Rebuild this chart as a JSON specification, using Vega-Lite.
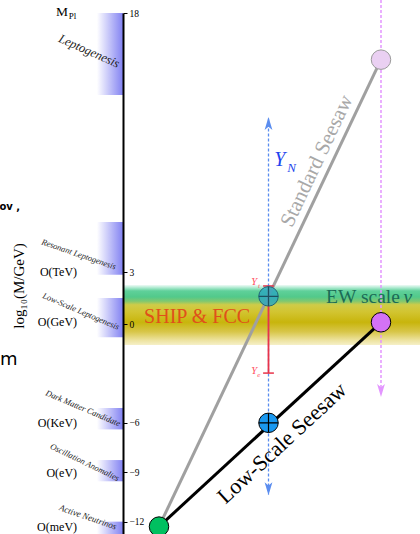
{
  "$schema": "https://vega.github.io/schema/vega-lite/v6.json",
  "width": 420,
  "height": 521,
  "padding": {"left": 0, "top": 13, "right": 0, "bottom": 0},
  "autosize": {"type": "none"},
  "background": "white",
  "config": {"view": {"stroke": null}},
  "encoding": {
    "x": {"field": "x", "type": "quantitative", "scale": {"domain": [-4.1, 9.9], "nice": false, "zero": false}, "axis": null},
    "y": {"field": "y", "type": "quantitative", "scale": {"domain": [-12.75, 0, 18], "range": [521, 311, 0], "nice": false, "zero": false},
      "axis": {"orient": "right", "offset": -297, "values": [18, 3, 0, -6, -9, -12], "title": null, "grid": false, "zindex": 1,
        "domainColor": "black", "domainWidth": 2, "tickColor": "black", "tickSize": 4, "tickWidth": 1,
        "labelFont": "Liberation Serif", "labelFontSize": 9.5, "labelColor": "black", "labelPadding": 2, "labelOverlap": false, "labelBound": false}}
  },
  "layer": [
    {
      "data": {"values": [{"x": 0, "x2": 9.9, "y": 2.26, "y2": -1.28}]},
      "mark": {"type": "rect", "fill": {"gradient": "linear", "x1": 0, "y1": 0, "x2": 0, "y2": 1, "stops": [
        {"offset": 0, "color": "#f0fbf7"}, {"offset": 0.05, "color": "#a8e8cc"}, {"offset": 0.1, "color": "#5fd09a"},
        {"offset": 0.2, "color": "#52c98a"}, {"offset": 0.27, "color": "#80c870"}, {"offset": 0.33, "color": "#cfcc48"},
        {"offset": 0.45, "color": "#d2c430"}, {"offset": 0.62, "color": "#c8b50c"}, {"offset": 0.78, "color": "#d8c64a"},
        {"offset": 0.92, "color": "#ede3a0"}, {"offset": 1, "color": "#f6f0c8"}]}},
      "encoding": {"x2": {"field": "x2"}, "y2": {"field": "y2"}}
    },
    {
      "data": {"values": [
        {"x": -0.87, "x2": 0, "y": 18, "y2": 13.25},
        {"x": -0.87, "x2": 0, "y": 5.9, "y2": 2.85},
        {"x": -0.87, "x2": 0, "y": 1.5, "y2": -0.8},
        {"x": -0.87, "x2": 0, "y": -5.1, "y2": -6.4},
        {"x": -0.87, "x2": 0, "y": -8.26, "y2": -9.55},
        {"x": -0.87, "x2": 0, "y": -12.0, "y2": -12.75}]},
      "mark": {"type": "rect", "fill": {"gradient": "linear", "x1": 0, "y1": 0, "x2": 1, "y2": 0, "stops": [
        {"offset": 0, "color": "#ffffff"}, {"offset": 1, "color": "#8282f2"}]}},
      "encoding": {"x2": {"field": "x2"}, "y2": {"field": "y2"}}
    },
    {
      "data": {"values": [{"x": 1.2, "y": -12.3}, {"x": 8.6, "y": 15.3}]},
      "mark": {"type": "line", "color": "#a0a0a0", "strokeWidth": 3}
    },
    {
      "data": {"values": [{"x": 1.2, "y": -12.3}, {"x": 8.6, "y": 0.1}]},
      "mark": {"type": "line", "color": "black", "strokeWidth": 3}
    },
    {
      "data": {"values": [{"x": 4.85, "y": 11.9, "y2": -10.35}]},
      "mark": {"type": "rule", "color": "#5b8def", "strokeWidth": 1.3, "strokeDash": [3, 2]},
      "encoding": {"y2": {"field": "y2"}}
    },
    {
      "data": {"values": [{"x": 8.6, "y": 18.75, "y2": -4.3}]},
      "mark": {"type": "rule", "color": "#e395ff", "strokeWidth": 1.5, "strokeDash": [3, 2]},
      "encoding": {"y2": {"field": "y2"}}
    },
    {
      "data": {"values": [{"x": 4.85, "y": 2.2, "y2": -2.98}]},
      "mark": {"type": "rule", "color": "#e8334a", "strokeWidth": 1.8},
      "encoding": {"y2": {"field": "y2"}}
    },
    {
      "data": {"values": [{"x": 4.67, "x2": 5.03, "y": 2.2}, {"x": 4.67, "x2": 5.03, "y": -2.98}]},
      "mark": {"type": "rule", "color": "#e8334a", "strokeWidth": 1.5},
      "encoding": {"x2": {"field": "x2"}}
    },
    {
      "data": {"values": [{"x": 4.85, "y": 11.6}]},
      "mark": {"type": "point", "shape": "M0,-1L0.6,1L0,0.5L-0.6,1Z", "size": 169, "filled": true, "color": "#5b8def", "opacity": 1}
    },
    {
      "data": {"values": [{"x": 4.85, "y": -10.0}]},
      "mark": {"type": "point", "shape": "M0,1L0.6,-1L0,-0.5L-0.6,-1Z", "size": 169, "filled": true, "color": "#5b8def", "opacity": 1}
    },
    {
      "data": {"values": [{"x": 8.6, "y": -4.04}]},
      "mark": {"type": "point", "shape": "M0,1L0.6,-1L0,-0.5L-0.6,-1Z", "size": 169, "filled": true, "color": "#e395ff", "opacity": 1}
    },
    {
      "data": {"values": [{"x": 1.2, "y": -12.3}]},
      "mark": {"type": "point", "shape": "circle", "size": 380, "filled": true, "fill": "#00c060", "stroke": "black", "strokeWidth": 1, "opacity": 1}
    },
    {
      "data": {"values": [{"x": 4.85, "y": -6.0}]},
      "mark": {"type": "point", "shape": "circle", "size": 380, "filled": true, "fill": "#1a98f0", "stroke": "black", "strokeWidth": 1, "opacity": 1}
    },
    {
      "data": {"values": [{"x": 8.6, "y": 0.1}]},
      "mark": {"type": "point", "shape": "circle", "size": 380, "filled": true, "fill": "#d472f5", "stroke": "black", "strokeWidth": 1, "opacity": 1}
    },
    {
      "data": {"values": [{"x": 8.6, "y": 15.3}]},
      "mark": {"type": "point", "shape": "circle", "size": 380, "filled": true, "fill": "#ead0f2", "stroke": "#9a9a9a", "strokeWidth": 1, "opacity": 1}
    },
    {
      "data": {"values": [{"x": 4.85, "y": 1.6}]},
      "mark": {"type": "point", "shape": "circle", "size": 380, "filled": true, "fill": "#2aa6bf", "fillOpacity": 0.8, "stroke": "#226677", "strokeWidth": 1}
    },
    {
      "data": {"values": [{"x": 4.85, "y": -6.0}]},
      "mark": {"type": "point", "shape": "M-1,0L1,0M0,-1L0,1", "size": 380, "filled": false, "stroke": "black", "strokeWidth": 1.2, "opacity": 1}
    },
    {
      "data": {"values": [{"x": 4.85, "y": 1.6}]},
      "mark": {"type": "point", "shape": "M-1,0L1,0M0,-1L0,1", "size": 380, "filled": false, "stroke": "#1d5060", "strokeWidth": 1.2, "opacity": 1}
    },
    {
      "data": {"values": [{"x": -2.03, "y": 18.05, "t": "M"}]},
      "mark": {"type": "text", "font": "Liberation Serif", "fontSize": 13.5, "color": "black", "align": "center", "baseline": "middle"},
      "encoding": {"text": {"field": "t"}}
    },
    {
      "data": {"values": [{"x": -1.68, "y": 17.85, "t": "Pl"}]},
      "mark": {"type": "text", "font": "Liberation Serif", "fontSize": 9, "color": "black", "align": "center", "baseline": "middle"},
      "encoding": {"text": {"field": "t"}}
    },
    {
      "data": {"values": [
        {"x": -1.53, "y": 3.0, "t": "O(TeV)"},
        {"x": -1.53, "y": 0.1, "t": "O(GeV)"},
        {"x": -1.53, "y": -6.0, "t": "O(KeV)"},
        {"x": -1.53, "y": -9.05, "t": "O(eV)"},
        {"x": -1.53, "y": -12.3, "t": "O(meV)"}]},
      "mark": {"type": "text", "font": "Liberation Serif", "fontSize": 12, "color": "black", "align": "right", "baseline": "middle"},
      "encoding": {"text": {"field": "t"}}
    },
    {
      "data": {"values": [{"x": -3.47, "y": 2.2, "t": "log₁₀(M/GeV)"}]},
      "mark": {"type": "text", "font": "Liberation Serif", "fontSize": 15, "color": "black", "align": "center", "baseline": "middle", "angle": 270},
      "encoding": {"text": {"field": "t"}}
    },
    {
      "data": {"values": [{"x": -1.13, "y": 15.8, "t": "Leptogenesis"}]},
      "mark": {"type": "text", "font": "Liberation Serif", "fontStyle": "italic", "fontSize": 12.5, "color": "#222", "align": "center", "baseline": "middle", "angle": 24},
      "encoding": {"text": {"field": "t"}}
    },
    {
      "data": {"values": [{"x": -1.47, "y": 4.05, "t": "Resonant Leptogenesis"}]},
      "mark": {"type": "text", "font": "Liberation Serif", "fontStyle": "italic", "fontSize": 8.5, "color": "#222", "align": "center", "baseline": "middle", "angle": 19},
      "encoding": {"text": {"field": "t"}}
    },
    {
      "data": {"values": [{"x": -1.4, "y": 0.75, "t": "Low-Scale Leptogenesis"}, {"x": -1.33, "y": -5.1, "t": "Dark Matter Candidate"}]},
      "mark": {"type": "text", "font": "Liberation Serif", "fontStyle": "italic", "fontSize": 8.5, "color": "#222", "align": "center", "baseline": "middle", "angle": 23},
      "encoding": {"text": {"field": "t"}}
    },
    {
      "data": {"values": [{"x": -1.27, "y": -8.38, "t": "Oscillation Anomalies"}]},
      "mark": {"type": "text", "font": "Liberation Serif", "fontStyle": "italic", "fontSize": 8.5, "color": "#222", "align": "center", "baseline": "middle", "angle": 26},
      "encoding": {"text": {"field": "t"}}
    },
    {
      "data": {"values": [{"x": -1.17, "y": -11.72, "t": "Active Neutrinos"}]},
      "mark": {"type": "text", "font": "Liberation Serif", "fontStyle": "italic", "fontSize": 9, "color": "#222", "align": "center", "baseline": "middle", "angle": 19},
      "encoding": {"text": {"field": "t"}}
    },
    {
      "data": {"values": [{"x": 2.47, "y": 0.4, "t": "SHIP & FCC"}]},
      "mark": {"type": "text", "font": "Liberation Serif", "fontSize": 20, "color": "#e0501a", "align": "center", "baseline": "middle"},
      "encoding": {"text": {"field": "t"}}
    },
    {
      "data": {"values": [{"x": 9.23, "y": 1.56, "t": "EW scale"}]},
      "mark": {"type": "text", "font": "Liberation Serif", "fontSize": 19.5, "color": "#1b6b56", "align": "right", "baseline": "middle"},
      "encoding": {"text": {"field": "t"}}
    },
    {
      "data": {"values": [{"x": 9.35, "y": 1.56, "t": "v"}]},
      "mark": {"type": "text", "font": "Liberation Serif", "fontStyle": "italic", "fontSize": 19.5, "color": "#1b6b56", "align": "left", "baseline": "middle"},
      "encoding": {"text": {"field": "t"}}
    },
    {
      "data": {"values": [{"x": 6.47, "y": 9.43, "t": "Standard Seesaw"}]},
      "mark": {"type": "text", "font": "Liberation Serif", "fontSize": 21, "color": "#a8a8a8", "align": "center", "baseline": "middle", "angle": 295.3},
      "encoding": {"text": {"field": "t"}}
    },
    {
      "data": {"values": [{"x": 5.3, "y": -7.23, "t": "Low-Scale Seesaw"}]},
      "mark": {"type": "text", "font": "Liberation Serif", "fontSize": 22, "color": "black", "align": "center", "baseline": "middle", "angle": 317.3},
      "encoding": {"text": {"field": "t"}}
    },
    {
      "data": {"values": [{"x": 5.23, "y": 9.49, "t": "Y"}]},
      "mark": {"type": "text", "font": "Liberation Serif", "fontStyle": "italic", "fontSize": 20, "color": "#2244ee", "align": "center", "baseline": "middle"},
      "encoding": {"text": {"field": "t"}}
    },
    {
      "data": {"values": [{"x": 5.62, "y": 9.05, "t": "N"}]},
      "mark": {"type": "text", "font": "Liberation Serif", "fontStyle": "italic", "fontSize": 13, "color": "#2244ee", "align": "center", "baseline": "middle"},
      "encoding": {"text": {"field": "t"}}
    },
    {
      "data": {"values": [{"x": 4.37, "y": 2.43, "t": "Y"}, {"x": 4.37, "y": -2.85, "t": "Y"}]},
      "mark": {"type": "text", "font": "Liberation Serif", "fontStyle": "italic", "fontSize": 10.5, "color": "#ff4d5e", "align": "center", "baseline": "middle"},
      "encoding": {"text": {"field": "t"}}
    },
    {
      "data": {"values": [{"x": 4.53, "y": 2.2, "t": "t"}, {"x": 4.53, "y": -3.1, "t": "e"}]},
      "mark": {"type": "text", "font": "Liberation Serif", "fontStyle": "italic", "fontSize": 7, "color": "#ff4d5e", "align": "center", "baseline": "middle"},
      "encoding": {"text": {"field": "t"}}
    },
    {
      "data": {"values": [{"x": -4.12, "y": 6.8, "t": "ov ,"}]},
      "mark": {"type": "text", "font": "DejaVu Sans", "fontWeight": "bold", "fontSize": 10, "color": "black", "align": "left", "baseline": "middle"},
      "encoding": {"text": {"field": "t"}}
    },
    {
      "data": {"values": [{"x": -4.1, "y": -2.19, "t": "m"}]},
      "mark": {"type": "text", "font": "DejaVu Sans", "fontSize": 18, "color": "black", "align": "left", "baseline": "middle"},
      "encoding": {"text": {"field": "t"}}
    }
  ]
}
